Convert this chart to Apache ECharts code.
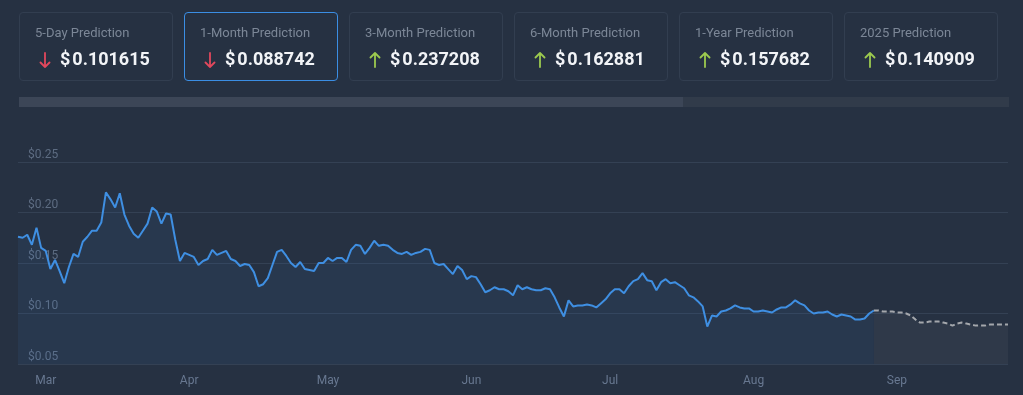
<!DOCTYPE html>
<html>
<head>
<meta charset="utf-8">
<script src="https://cdn.jsdelivr.net/npm/echarts@6/dist/echarts.min.js"></script>
<style>
  html, body { margin:0; padding:0; background:#263142; width:1023px; height:395px; overflow:hidden; font-family: Roboto, "Noto Sans", sans-serif; }
  #chart { position:absolute; left:0; top:0; width:1023px; height:395px; }
  .card { position:absolute; top:12px; width:152px; height:67px; border:1px solid #323e50; border-radius:4px; box-sizing:content-box; }
  .card.sel { border-color:#3b8ee4; }
  .card .t { position:absolute; left:15px; top:12px; font-size:13px; line-height:15px; color:#7c8797; white-space:nowrap; }
  .card .v { position:absolute; left:40px; top:35px; font-size:18px; line-height:21px; font-weight:bold; color:#f2f4f7; white-space:nowrap; }
  .card svg { position:absolute; left:19px; top:39px; }
  .card .v .d { margin-right:2px; }
</style>
</head>
<body>
<div id="chart"></div>
<div id="cards"></div>
<div id="bar" style="position:absolute; left:19px; top:97px; width:990px; height:10px; background:#313b4a;"><div id="barfill" style="position:absolute; left:0; top:0; width:664px; height:10px; background:#3c4657;"></div></div>
<script>
// ---- data ----
const cardTitles = ["5-Day Prediction","1-Month Prediction","3-Month Prediction","6-Month Prediction","1-Year Prediction","2025 Prediction"];
const cardValues = ["0.101615","0.088742","0.237208","0.162881","0.157682","0.140909"];
const cardDirections = ["down","down","up","up","up","up"];
const selectedCard = 1;

const historyStart = "2024-02-24";
const historyValues = [
  0.176,0.175,0.178,0.168,0.185,0.165,
  0.162,0.144,0.153,0.142,0.130,0.146,0.159,0.156,0.171,0.176,
  0.182,0.182,0.190,0.220,0.213,0.205,0.219,0.198,0.187,0.179,
  0.175,0.182,0.189,0.205,0.201,0.189,0.199,0.198,0.173,0.152,
  0.160,0.158,0.156,0.148,0.152,0.154,0.163,0.158,0.160,0.162,
  0.154,0.152,0.147,0.149,0.148,0.141,0.127,0.129,0.135,0.148,
  0.161,0.163,0.157,0.150,0.146,0.151,0.144,0.143,0.142,0.150,
  0.150,0.155,0.152,0.155,0.155,0.151,0.163,0.168,0.167,0.159,
  0.165,0.172,0.167,0.168,0.167,0.163,0.160,0.159,0.161,0.158,
  0.160,0.161,0.164,0.163,0.150,0.148,0.149,0.144,0.139,0.147,
  0.143,0.134,0.137,0.136,0.129,0.121,0.123,0.126,0.124,0.124,
  0.122,0.118,0.128,0.124,0.126,0.124,0.123,0.123,0.125,0.124,
  0.116,0.106,0.097,0.113,0.107,0.108,0.108,0.109,0.108,0.106,
  0.110,0.114,0.120,0.124,0.124,0.120,0.127,0.132,0.134,0.140,
  0.133,0.132,0.123,0.131,0.134,0.130,0.131,0.128,0.125,0.118,
  0.116,0.112,0.107,0.087,0.098,0.097,0.102,0.103,0.105,0.108,
  0.106,0.105,0.105,0.102,0.102,0.103,0.102,0.101,0.104,0.106,
  0.106,0.109,0.113,0.110,0.108,0.103,0.100,0.101,0.101,0.102,
  0.099,0.097,0.099,0.098,0.097,0.094,0.094,0.095,0.100,0.103
];
const forecastValues = [
  0.103,0.103,0.102,0.102,0.102,0.101,0.101,0.100,0.098,0.094,
  0.091,0.091,0.092,0.092,0.092,0.091,0.090,0.088,0.090,0.091,
  0.090,0.089,0.088,0.088,0.088,0.089,0.089,0.089,0.089,0.089
];
const yTicks = [0.05, 0.10, 0.15, 0.20, 0.25];
const monthNames = ["Jan","Feb","Mar","Apr","May","Jun","Jul","Aug","Sep","Oct","Nov","Dec"];

// ---- cards ----
const arrowColors = { down: '#e2485d', up: '#9cca4f' };
function arrowSvg(dir) {
  const c = arrowColors[dir];
  const path = dir === 'down'
    ? '<path d="M6 1 L6 15 M1.5 10.5 L6 15 L10.5 10.5" />'
    : '<path d="M6 15 L6 1 M1.5 5.5 L6 1 L10.5 5.5" />';
  return '<svg width="12" height="16" viewBox="0 0 12 16" fill="none" stroke="' + c + '" stroke-width="1.8" stroke-linecap="round" stroke-linejoin="round">' + path + '</svg>';
}
const cardsEl = document.getElementById('cards');
cardTitles.forEach((t, i) => {
  const c = document.createElement('div');
  c.className = 'card' + (i === selectedCard ? ' sel' : '');
  c.style.left = (19 + i * 165) + 'px';
  c.innerHTML = '<div class="t">' + t + '</div>' + arrowSvg(cardDirections[i]) +
    '<div class="v"><span class="d">$</span>' + cardValues[i] + '</div>';
  cardsEl.appendChild(c);
});

// ---- chart ----
const DAY = 86400000;
const t0 = Date.parse(historyStart + "T00:00:00Z");
const histData = historyValues.map((v, i) => [t0 + i * DAY, v]);
const fStart = t0 + (historyValues.length - 1) * DAY;
const fcData = forecastValues.map((v, i) => [fStart + i * DAY, v]);

const chart = echarts.init(document.getElementById('chart'), null, {renderer: 'canvas'});
chart.setOption({
  useUTC: true,
  backgroundColor: 'transparent',
  animation: false,
  grid: { left: 18, right: 15, top: 162, bottom: 31 },
  xAxis: {
    type: 'time',
    min: t0,
    max: fcData[fcData.length - 1][0],
    splitNumber: 8,
    axisLine: { show: false },
    axisTick: { show: false },
    splitLine: { show: false },
    axisLabel: {
      color: '#687891',
      fontSize: 12,
      fontFamily: 'Roboto',
      margin: 11,
      hideOverlap: false,
      formatter: function (v) {
        const d = new Date(v);
        return d.getUTCDate() === 1 ? monthNames[d.getUTCMonth()] : '';
      }
    }
  },
  yAxis: {
    type: 'value',
    min: yTicks[0],
    max: yTicks[yTicks.length - 1],
    interval: 0.05,
    axisLine: { show: false },
    axisTick: { show: false },
    splitLine: { show: true, lineStyle: { color: '#344154', width: 1 } },
    axisLabel: {
      inside: true,
      margin: 10,
      color: '#5d6c82',
      fontSize: 12,
      fontFamily: 'Roboto',
      verticalAlign: 'bottom',
      lineHeight: 15,
      formatter: function (v) { return '$' + v.toFixed(2); }
    }
  },
  series: [
    {
      type: 'line',
      data: fcData,
      symbol: 'none',
      z: 2,
      lineStyle: { color: '#a4a7ac', width: 2, type: [5, 3] },
      areaStyle: { color: 'rgba(164,167,172,0.1)' }
    },
    {
      type: 'line',
      data: histData,
      symbol: 'none',
      z: 3,
      lineStyle: { color: '#3f8fe2', width: 2 },
      areaStyle: { color: 'rgba(63,143,226,0.11)' }
    }
  ]
});
</script>
</body>
</html>
